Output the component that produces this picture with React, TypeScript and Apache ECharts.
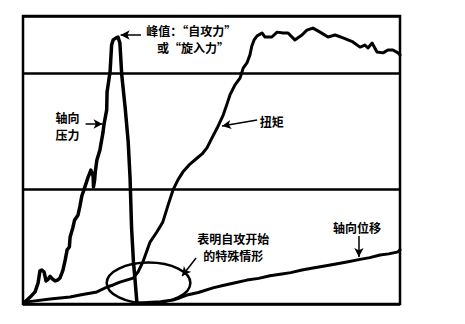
import React, { useEffect, useRef } from "react";
import * as echarts from "echarts";

// Axial thrust during screw insertion: rises to the peak "self-tapping" force, then drops
const pressureData: [number, number][] = [
  [0.5, 0.7], [1.9, 2.4], [3.2, 4.2], [4.0, 7.3], [4.5, 11.5], [5.0, 11.8], [5.6, 11.1],
  [6.1, 8.0], [6.6, 8.5], [7.2, 9.6], [7.7, 8.8], [8.5, 8.0], [9.3, 8.4], [9.8, 9.0],
  [10.6, 11.8], [11.2, 15.3], [11.7, 18.8], [12.3, 19.8], [12.5, 23.3], [13.2, 26.4],
  [13.7, 29.2], [14.6, 30.9], [15.1, 34.0], [15.6, 37.5], [16.4, 40.6], [17.2, 43.8],
  [18.0, 46.5], [18.6, 44.4], [18.7, 40.6], [19.0, 43.1], [19.2, 46.2], [19.6, 50.0],
  [20.4, 53.5], [21.2, 59.4], [21.5, 62.5], [22.2, 67.4], [22.3, 73.6], [23.1, 80.7],
  [23.5, 89.9], [23.9, 91.7], [24.7, 92.4], [25.2, 92.7], [25.7, 90.6], [26.2, 79.5],
  [27.1, 68.1], [27.9, 56.4], [28.4, 43.8], [28.8, 26.4], [29.3, 14.6], [29.7, 8.7],
  [30.2, 0.7],
];

// Driving torque: slow start, steep climb, then a ragged plateau
const torqueData: [number, number][] = [
  [0.5, 0.7], [2.7, 1.0], [7.2, 1.7], [12.5, 2.4], [15.1, 3.1], [19.6, 4.2], [22.3, 5.9],
  [23.9, 6.6], [25.7, 7.6], [29.2, 9.0], [30.5, 11.1], [31.8, 14.6], [33.7, 21.5],
  [35.5, 25.0], [37.1, 28.5], [38.5, 34.4], [39.8, 39.6], [41.1, 43.1], [42.4, 45.8],
  [44.3, 48.6], [46.2, 50.7], [47.5, 52.1], [48.8, 54.2], [50.1, 57.6], [51.5, 61.1],
  [53.1, 65.6], [54.1, 69.4], [54.9, 72.6], [56.2, 76.0], [57.6, 78.5], [58.4, 81.9],
  [59.4, 83.7], [60.2, 86.5], [60.7, 89.6], [61.3, 91.7], [62.1, 93.1], [63.4, 94.1],
  [64.2, 92.7], [66.0, 92.7], [67.4, 94.4], [69.0, 94.1], [70.3, 94.1], [72.1, 91.7],
  [74.0, 93.4], [75.3, 95.1], [76.9, 95.8], [78.8, 94.4], [80.9, 92.7], [82.8, 93.4],
  [84.9, 92.4], [87.5, 91.0], [89.4, 89.2], [90.7, 89.9], [91.5, 88.9], [92.6, 90.6],
  [93.9, 87.5], [95.5, 87.2], [96.8, 88.2], [98.1, 88.2], [99.5, 87.2], [100, 86.5],
];

// Axial displacement of the screw
const displacementData: [number, number][] = [
  [29.5, 0.3], [33.0, 0.5], [36.5, 0.8], [39.8, 1.4], [41.5, 2.1], [43.5, 3.1], [46.5, 4.0],
  [50.4, 5.6], [53.0, 6.4], [56.0, 7.3], [59.4, 8.3], [62.5, 8.9], [65.5, 9.8], [68.2, 10.3],
  [71.0, 10.9], [74.0, 11.8], [76.9, 12.5], [80.0, 13.2], [83.0, 13.9], [85.9, 14.6],
  [89.4, 15.5], [92.0, 16.1], [94.7, 17.0], [97.0, 17.4], [99.5, 18.1], [100, 18.8],
];

// Callout arrows: [from, to] in data units
const calloutArrows: [number, number][][] = [
  [[31.3, 93.4], [25.9, 93.4]],
  [[16.6, 62.5], [21.1, 62.5]],
  [[62.1, 63.9], [52.8, 61.8]],
  [[45.9, 16.0], [42.2, 9.7]],
  [[89.1, 23.6], [89.1, 16.3]],
];

// Label texts and their anchor points (data units)
const labelLines: { text: string; at: [number, number] }[] = [
  { text: "峰值：“自攻力”", at: [44.6, 95.1] },
  { text: "或“旋入力”", at: [45.1, 89.2] },
  { text: "轴向", at: [11.8, 64.9] },
  { text: "压力", at: [11.8, 59.0] },
  { text: "扭矩", at: [66.0, 63.5] },
  { text: "表明自攻开始", at: [55.8, 22.6] },
  { text: "的特殊情形", at: [55.8, 16.7] },
  { text: "轴向位移", at: [88.6, 26.7] },
];

// Ring marking the onset of self-tapping
const ringCenter: [number, number] = [33.3, 7.3];
const ringRadius: [number, number] = [11.1, 7.1];

const FONT = '"Noto Sans CJK SC", "Noto Sans", sans-serif';

export default function App() {
  const ref = useRef<HTMLDivElement>(null);

  useEffect(() => {
    const chart = echarts.init(ref.current!, null, { renderer: "svg" });
    const curve = (name: string, data: [number, number][], width: number) => ({
      type: "line",
      name,
      data,
      symbol: "none",
      showSymbol: false,
      silent: true,
      z: 3,
      lineStyle: { color: "#000", width, join: "round", cap: "round" },
    });

    chart.setOption({
      animation: false,
      backgroundColor: "#fff",
      grid: {
        left: 23,
        right: 65,
        top: 16,
        bottom: 20,
        show: true,
        borderColor: "#000",
        borderWidth: 2.5,
      },
      xAxis: {
        type: "value",
        min: 0,
        max: 100,
        axisLine: { show: false },
        axisTick: { show: false },
        axisLabel: { show: false },
        splitLine: { show: false },
      },
      yAxis: {
        type: "value",
        min: 0,
        max: 100,
        interval: 40,
        axisLine: { show: false },
        axisTick: { show: false },
        axisLabel: { show: false },
        splitLine: { show: true, lineStyle: { color: "#000", width: 2.5 } },
      },
      series: [
        curve("轴向压力", pressureData, 3.5),
        curve("扭矩", torqueData, 3),
        {
          ...curve("轴向位移", displacementData, 3),
          markLine: {
            silent: true,
            symbol: ["none", "arrow"],
            symbolSize: [7, 9],
            label: { show: false },
            lineStyle: { color: "#000", width: 1.5, type: "solid" },
            data: calloutArrows.map(([a, b]) => [{ coord: a }, { coord: b }]),
          },
        },
      ],
    });

    const toPx = (p: [number, number]) =>
      chart.convertToPixel({ gridIndex: 0 }, p) as number[];
    const c = toPx(ringCenter);
    const edge = toPx([ringCenter[0] + ringRadius[0], ringCenter[1] + ringRadius[1]]);

    chart.setOption({
      graphic: [
        {
          type: "ellipse",
          silent: true,
          z: 10,
          shape: { cx: c[0], cy: c[1], rx: edge[0] - c[0], ry: c[1] - edge[1] },
          style: { fill: "none", stroke: "#000", lineWidth: 2.5 },
        },
        ...labelLines.map((l) => {
          const p = toPx(l.at);
          return {
            type: "text",
            silent: true,
            z: 10,
            x: p[0],
            y: p[1],
            style: {
              text: l.text,
              font: `bold 12px ${FONT}`,
              fill: "#000",
              align: "center",
              verticalAlign: "middle",
              textAlign: "center",
              textVerticalAlign: "middle",
            },
          };
        }),
      ],
    });

    return () => chart.dispose();
  }, []);

  return (
    <div
      ref={ref}
      style={{ position: "absolute", left: 0, top: 0, width: 465, height: 324, background: "#fff" }}
    />
  );
}
